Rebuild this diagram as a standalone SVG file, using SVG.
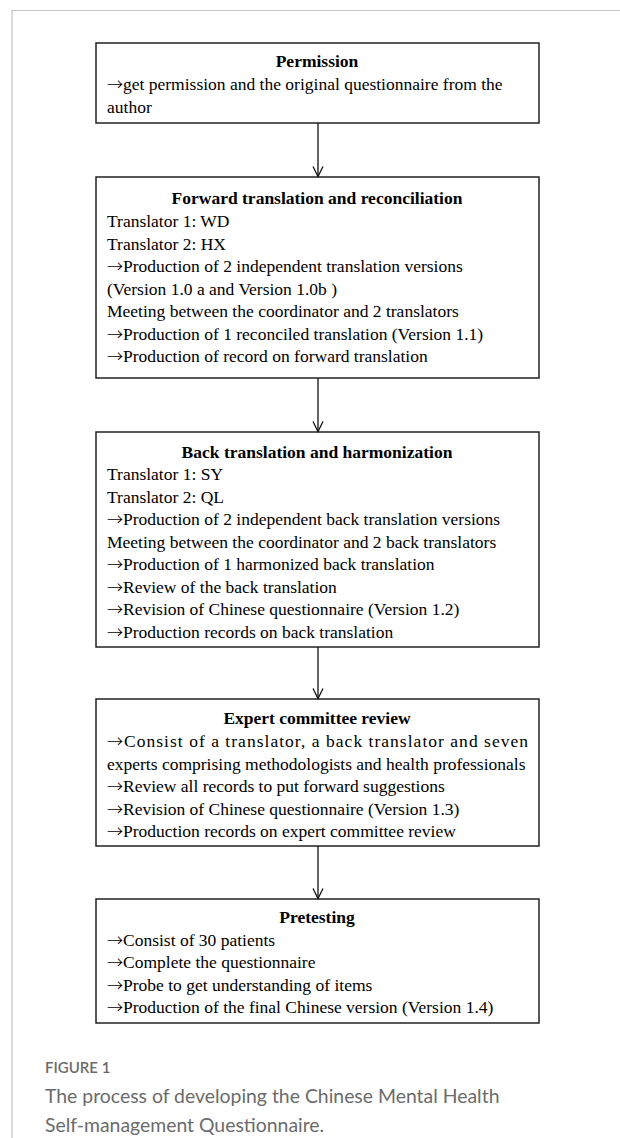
<svg xmlns="http://www.w3.org/2000/svg" width="620" height="1138" viewBox="0 0 620 1138">
<style>
.frame{fill:none;stroke:#c4c4c4;stroke-width:1.2}
.box{fill:#fff;stroke:#222;stroke-width:1.5}
.t{font-family:"Liberation Serif","Times New Roman",serif;font-size:17.5px;fill:#000}
.h{font-weight:bold;text-anchor:middle}
.a{font-family:"Noto Sans CJK SC","DejaVu Sans",sans-serif;font-size:16px;font-weight:300}
.conn{fill:none;stroke:#111;stroke-width:1.3}
.fig{font-family:Lato,"Open Sans",sans-serif;font-size:15px;font-weight:600;fill:#6b6b6b}
.cap{font-family:Lato,"Open Sans",sans-serif;font-size:19.4px;fill:#6b6b6b}
</style>
<defs>
<marker id="arr" markerWidth="12" markerHeight="12" refX="11" refY="6" orient="auto" markerUnits="userSpaceOnUse" viewBox="0 0 12 12">
<path d="M1,1 L11,6 L1,11" fill="none" stroke="#111" stroke-width="1.3"/>
</marker>
</defs>
<rect width="620" height="1138" fill="#fff"/>
<path class="frame" d="M12,1138 V10.5 H620"/>

<g id="permission">
<rect class="box" x="96" y="43" width="443" height="80"/>
<text class="t h" x="317" y="67">Permission</text>
<text class="t" x="107" y="90"><tspan class="a">→</tspan>get permission and the original questionnaire from the</text>
<text class="t" x="107" y="112.5">author</text>
</g>

<g id="forward">
<rect class="box" x="96" y="177" width="443" height="201"/>
<text class="t h" x="317" y="204">Forward translation and reconciliation</text>
<text class="t" x="107" y="227">Translator 1: WD</text>
<text class="t" x="107" y="249.5">Translator 2: HX</text>
<text class="t" x="107" y="272"><tspan class="a">→</tspan>Production of 2 independent translation versions</text>
<text class="t" x="107" y="294.5">(Version 1.0 a and Version 1.0b )</text>
<text class="t" x="107" y="317">Meeting between the coordinator and 2 translators</text>
<text class="t" x="107" y="339.5"><tspan class="a">→</tspan>Production of 1 reconciled translation (Version 1.1)</text>
<text class="t" x="107" y="362"><tspan class="a">→</tspan>Production of record on forward translation</text>
</g>

<g id="back">
<rect class="box" x="96" y="432" width="443" height="215"/>
<text class="t h" x="317" y="457.5">Back translation and harmonization</text>
<text class="t" x="107" y="480">Translator 1: SY</text>
<text class="t" x="107" y="502.5">Translator 2: QL</text>
<text class="t" x="107" y="525"><tspan class="a">→</tspan>Production of 2 independent back translation versions</text>
<text class="t" x="107" y="547.5">Meeting between the coordinator and 2 back translators</text>
<text class="t" x="107" y="570"><tspan class="a">→</tspan>Production of 1 harmonized back translation</text>
<text class="t" x="107" y="592.5"><tspan class="a">→</tspan>Review of the back translation</text>
<text class="t" x="107" y="615"><tspan class="a">→</tspan>Revision of Chinese questionnaire (Version 1.2)</text>
<text class="t" x="107" y="637.5"><tspan class="a">→</tspan>Production records on back translation</text>
</g>

<g id="expert">
<rect class="box" x="96" y="699" width="443" height="147"/>
<text class="t h" x="317" y="724">Expert committee review</text>
<text class="t" x="107" y="747" textLength="421" lengthAdjust="spacing"><tspan class="a">→</tspan>Consist of a translator, a back translator and seven</text>
<text class="t" x="107" y="769.5">experts comprising methodologists and health professionals</text>
<text class="t" x="107" y="792"><tspan class="a">→</tspan>Review all records to put forward suggestions</text>
<text class="t" x="107" y="814.5"><tspan class="a">→</tspan>Revision of Chinese questionnaire (Version 1.3)</text>
<text class="t" x="107" y="837"><tspan class="a">→</tspan>Production records on expert committee review</text>
</g>

<g id="pretesting">
<rect class="box" x="96" y="899" width="443" height="124"/>
<text class="t h" x="317" y="923">Pretesting</text>
<text class="t" x="107" y="945.5"><tspan class="a">→</tspan>Consist of 30 patients</text>
<text class="t" x="107" y="968"><tspan class="a">→</tspan>Complete the questionnaire</text>
<text class="t" x="107" y="990.5"><tspan class="a">→</tspan>Probe to get understanding of items</text>
<text class="t" x="107" y="1013"><tspan class="a">→</tspan>Production of the final Chinese version (Version 1.4)</text>
</g>

<g id="connectors">
<line class="conn" x1="318" y1="123" x2="318" y2="176.5" marker-end="url(#arr)"/>
<line class="conn" x1="318" y1="378" x2="318" y2="431.5" marker-end="url(#arr)"/>
<line class="conn" x1="318" y1="647" x2="318" y2="698.5" marker-end="url(#arr)"/>
<line class="conn" x1="318" y1="846" x2="318" y2="898.5" marker-end="url(#arr)"/>
</g>

<g id="caption">
<text class="fig" x="45" y="1073">FIGURE 1</text>
<text class="cap" x="45" y="1103">The process of developing the Chinese Mental Health</text>
<text class="cap" x="45" y="1132">Self-management Questionnaire.</text>
</g>
</svg>
